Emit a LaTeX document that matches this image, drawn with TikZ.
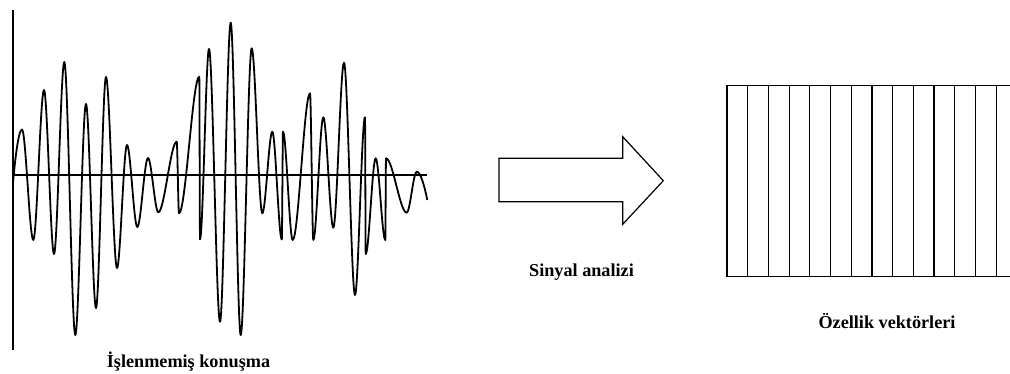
\documentclass[tikz,border=0pt]{standalone}
\usepackage{fontspec}
\setmainfont{Liberation Serif}
\usepackage{tikz}
\usetikzlibrary{positioning}
\tikzset{
  axis/.style     = {line width=1.6pt},
  zero/.style     = {line width=1.6pt},
  wave/.style     = {line width=1.8pt, line join=round},
  frame/.style    = {line width=1.2pt},
  bigarrow/.style = {line width=1.2pt, line join=miter},
  lbl/.style      = {font=\fontsize{18.2}{22}\selectfont\bfseries, inner sep=0pt, anchor=base},
}

\begin{document}
\begin{tikzpicture}[x=1pt,y=-1pt]
  \useasboundingbox (0,0) rectangle (1010,374);
  % raw speech signal
  \draw[axis] (13,10) -- (13,350);
  \draw[zero] (13,175) -- (427.3,175);
  \draw[wave] (13,183) .. controls (15,160) and (18.5,129.5) .. (22,129.5)
    \foreach \x/\y [remember=\x as \lx (initially 22), remember=\y as \ly (initially 129.5)] in
      {33.3/240, 44/90, 54/254, 64.3/62, 75.3/335, 86/104, 96/308, 106/77, 117/268,
       127/145, 137.3/227, 148/158, 158.3/212.3, 176.7/141.7, 179/213.3, 199.3/76.7,
       200/239.3, 209/49, 220/321.7, 230.7/22.7, 240.7/335, 251.7/48.3, 262.3/213.3,
       272.3/131.7, 281.8/239.5, 283/131.7, 292.7/240, 310/93.3, 313.3/240, 323.3/117.3,
       333.3/227.7, 344/62.7, 355/295, 365/117.3, 365.7/254, 375.7/158.3, 385.3/240,
       386/158.3, 406.7/212.7, 416.7/171.7}
      { .. controls ({\lx+0.33*(\x-\lx)},\ly) and ({\x-0.33*(\x-\lx)},\y) .. (\x,\y) }
    .. controls (420.5,171.7) and (424.5,186) .. (427.3,200);
  % analysis arrow
  \draw[bigarrow] (499,158.3) -- (622.7,158.3) -- (622.7,136.7) -- (663.3,180.7)
    -- (622.7,224.3) -- (622.7,201.7) -- (499,201.7) -- cycle;
  % feature vectors
  \draw[frame] (1010,85.7) -- (727,85.7) -- (727,276.7) -- (1010,276.7);
  \foreach \k in {1,...,13}
    \draw[frame] ({727+20.7*\k},85.7) -- ({727+20.7*\k},276.7);
  % labels
  \node[lbl] (raw) at (188.5,367) {İşlenmemiş konuşma};
  \node[lbl] (analysis) at (581.5,277) {Sinyal analizi};
  \node[lbl] (features) at (887,328) {Özellik vektörleri};
\end{tikzpicture}
\end{document}
